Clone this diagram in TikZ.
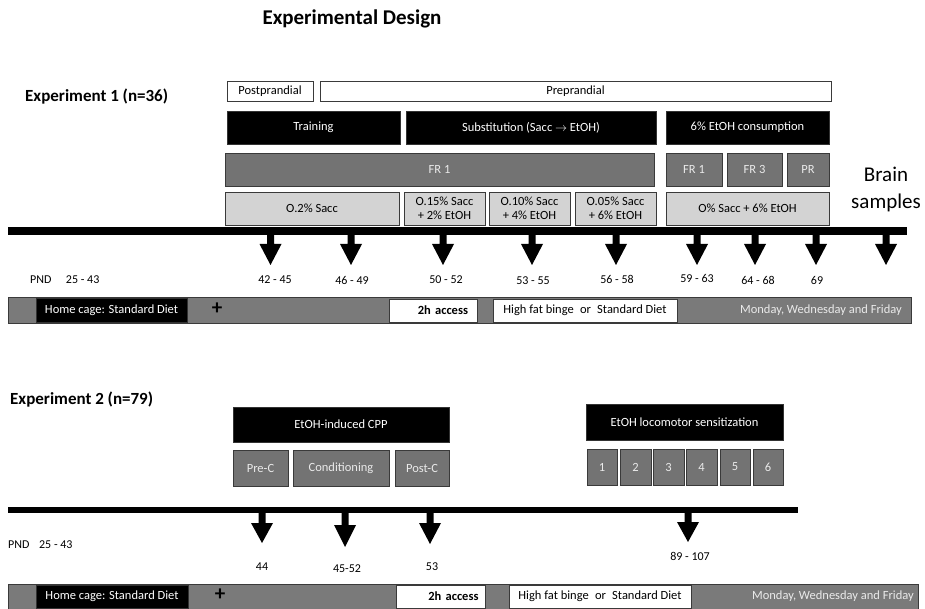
\documentclass[tikz,border=0pt]{standalone}
\usepackage{fontspec}
\setmainfont{Carlito}
\definecolor{dgray}{HTML}{737373}
\definecolor{bgray}{HTML}{7A7A7A}
\definecolor{lgray}{HTML}{D3D3D3}
\definecolor{edge}{HTML}{3A3A3A}
\definecolor{ltext}{HTML}{EAEAEA}
\newcommand\bx[7]{\node[#1,minimum width={#5-#3},minimum height={#6-#4}] (#2) at ({(#3+#5)/2},{(#4+#6)/2}) {#7};}
\newcommand\blockarr[5]{% name, x, top y, head base y, tip y
  \coordinate (#1) at (#2,#5);
  \fill[black] (#2-3.5,#3) -- (#2+3.5,#3) -- (#2+3.5,#4) -- (#2+11,#4) -- (#1) -- (#2-11,#4) -- (#2-3.5,#4) -- cycle;}
\begin{document}
\begin{tikzpicture}[x=1pt,y=-1pt,
  base/.style={inner sep=0pt,outer sep=0pt,font=\fontsize{12.5}{14}\selectfont},
  wbox/.style={base,draw=edge,fill=white,line width=0.8pt},
  bbox/.style={base,fill=black,draw=black!80,text=white,line width=0.6pt},
  dbox/.style={base,fill=dgray,draw=edge,text=ltext,line width=0.9pt},
  lbox/.style={base,fill=lgray,draw=edge,text=black,line width=0.9pt,align=center,font=\fontsize{12.5}{13.5}\selectfont},
  barbox/.style={base,fill=bgray,draw=edge,line width=0.9pt},
  tline/.style={fill=black},
  lab/.style={inner sep=0pt,font=\fontsize{12}{14}\selectfont},
  plus/.style={inner sep=0pt,font=\bfseries\fontsize{21}{21}\selectfont},
  big/.style={inner sep=0pt,font=\bfseries\fontsize{17}{20}\selectfont,anchor=west}]
\useasboundingbox (0,0) rectangle (925,609);

% Title
\node[inner sep=0pt,font=\bfseries\fontsize{21}{24}\selectfont] (title) at (352,19) {Experimental Design};

% ---------------- Experiment 1 ----------------
\node[big] (exp1) at (25,97) {Experiment 1 (n=36)};

\bx{wbox}{post}{227}{81}{313}{101}{Postprandial}
\bx{wbox}{pre}{320}{81}{831}{101}{Preprandial}

\bx{bbox}{train}{227}{111}{400}{144}{Training}
\bx{bbox}{subst}{406}{111}{656}{144}{Substitution (Sacc $\rightarrow$ EtOH)}
\bx{bbox}{cons}{666}{111}{829}{144}{6\% EtOH consumption}

\bx{dbox}{fra}{225}{153}{654}{186}{FR 1}
\bx{dbox}{frb}{666}{153}{722}{186}{FR 1}
\bx{dbox}{frc}{727}{153}{782}{186}{FR 3}
\bx{dbox}{prr}{787}{153}{829}{186}{PR}

\bx{lbox}{sa}{225}{192}{399}{225}{O.2\% Sacc}
\bx{lbox}{sb}{404}{192}{485}{225}{O.15\% Sacc\\+ 2\% EtOH}
\bx{lbox}{sc}{489}{192}{570}{225}{O.10\% Sacc\\+ 4\% EtOH}
\bx{lbox}{sd}{575}{192}{656}{225}{O.05\% Sacc\\+ 6\% EtOH}
\bx{lbox}{se}{666}{192}{829}{225}{O\% Sacc + 6\% EtOH}

\node[inner sep=0pt,align=center,font=\fontsize{21}{27}\selectfont] (brain) at (886,189) {Brain\\samples};

% timeline 1
\bx{tline}{tl1}{8}{227}{907}{235}{}
\blockarr{a1}{270.5}{233}{244}{265}
\blockarr{a2}{351}{233}{244}{265}
\blockarr{a3}{443}{233}{244}{265}
\blockarr{a4}{532}{233}{244}{265}
\blockarr{a5}{616}{233}{244}{265}
\blockarr{a6}{697}{233}{244}{265}
\blockarr{a7}{755}{233}{244}{265}
\blockarr{a8}{816}{233}{244}{265}
\blockarr{a9}{886}{233}{244}{265}

\node[lab,anchor=west] (pnd1) at (30,280) {PND\hspace{1.2em}25 - 43};
\node[lab] (l1) at (275,280) {42 - 45};
\node[lab] (l2) at (352,280) {46 - 49};
\node[lab] (l3) at (446,280) {50 - 52};
\node[lab] (l4) at (533,281) {53 - 55};
\node[lab] (l5) at (617,279) {56 - 58};
\node[lab] (l6) at (697,278) {59 - 63};
\node[lab] (l7) at (758,280) {64 - 68};
\node[lab] (l8) at (817,280) {69};

% bottom bar 1
\bx{barbox}{bar1}{8}{297}{911}{323}{}
\bx{bbox}{home1}{36}{298.5}{187}{322.5}{Home cage: Standard Diet}
\node[plus] (plus1) at (217,309) {+};
\bx{wbox,text width=70,align=right}{acc1}{389}{299}{477}{322}{\bfseries 2h access}
\bx{wbox}{hf1}{493}{299}{677}{322}{High fat binge\hspace{0.5em}or\hspace{0.5em}Standard Diet}
\node[lab,font=\fontsize{12.5}{14}\selectfont,anchor=east,text=ltext] (mwf1) at (902,310.5) {Monday, Wednesday and Friday};

% ---------------- Experiment 2 ----------------
\node[big] (exp2) at (10,400) {Experiment 2 (n=79)};

\bx{bbox}{cpp}{233}{407}{449}{442}{EtOH-induced CPP}
\bx{dbox}{prec}{233}{450}{288}{486}{Pre-C}
\bx{dbox}{cond}{293}{450}{389}{486}{Conditioning}
\bx{dbox}{postc}{395}{450}{449}{486}{Post-C}

\bx{bbox}{loco}{586}{404}{783}{440}{EtOH locomotor sensitization}
\bx{dbox}{s1}{587}{449}{617}{485}{1}
\bx{dbox}{s2}{620}{449}{651}{485}{2}
\bx{dbox}{s3}{653}{449}{684}{485}{3}
\bx{dbox}{s4}{686}{449}{717}{485}{4}
\bx{dbox}{s5}{720}{449}{750}{485}{5}
\bx{dbox}{s6}{753}{449}{783}{485}{6}

% timeline 2
\bx{tline}{tl2}{8}{507}{798}{513}{}
\blockarr{b1}{262}{511}{523}{543}
\blockarr{b2}{345}{511}{525}{547}
\blockarr{b3}{430}{511}{523}{544}
\blockarr{b4}{688}{511}{522}{542}

\node[lab,anchor=west] (pnd2) at (8,545) {PND\hspace{0.8em}25 - 43};
\node[lab] (m1) at (262,567) {44};
\node[lab] (m2) at (347,569) {45-52};
\node[lab] (m3) at (432,567) {53};
\node[lab] (m4) at (690,556) {89 - 107};

% bottom bar 2
\bx{barbox}{bar2}{8}{584}{918}{609}{}
\bx{bbox}{home2}{36}{585}{188}{608}{Home cage: Standard Diet}
\node[plus] (plus2) at (220,595) {+};
\bx{wbox,text width=76,align=right}{acc2}{396}{585}{485}{608}{\bfseries 2h access}
\bx{wbox}{hf2}{509}{585}{691}{608}{High fat binge\hspace{0.5em}or\hspace{0.5em}Standard Diet}
\node[lab,font=\fontsize{12.5}{14}\selectfont,anchor=east,text=ltext] (mwf2) at (914,596.5) {Monday, Wednesday and Friday};
\end{tikzpicture}
\end{document}
